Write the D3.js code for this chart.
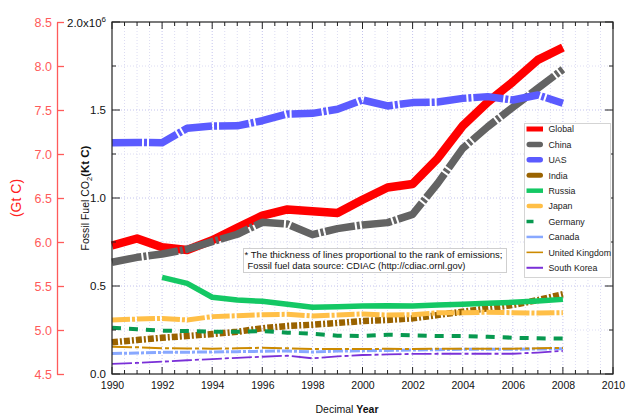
<!DOCTYPE html>
<html>
<head>
<meta charset="utf-8">
<script src="https://cdn.jsdelivr.net/npm/d3@7"></script>
<style>
  body { margin: 0; background: #fff; }
  svg { display: block; font-family: "Liberation Sans", Arial, sans-serif; }
</style>
</head>
<body>
<svg id="chart" width="628" height="417"></svg>
<script>
// Fossil-fuel CO2 emissions, 1990-2008 (CDIAC)
const years = [1990, 1991, 1992, 1993, 1994, 1995, 1996, 1997, 1998, 1999,
               2000, 2001, 2002, 2003, 2004, 2005, 2006, 2007, 2008];

// Global total, Gt C (left red axis)
const globalGt = [5.96, 6.04, 5.94, 5.91, 6.02, 6.16, 6.30, 6.37, 6.35, 6.33,
                  6.48, 6.62, 6.66, 6.95, 7.32, 7.59, 7.82, 8.07, 8.21];

// National totals, Kt C
const china   = [635000, 663000, 682000, 709000, 752000, 794000, 862000, 852000, 792000, 826000,
                 847000, 860000, 907000, 1083000, 1282000, 1405000, 1515000, 1623000, 1731000];
const uas     = [1314000, 1316000, 1314000, 1396000, 1409000, 1410000, 1439000, 1477000, 1481000, 1504000,
                 1557000, 1523000, 1542000, 1545000, 1566000, 1576000, 1557000, 1585000, 1538000];
const india   = [180000, 193000, 206000, 216000, 227000, 240000, 260000, 273000, 280000, 290000,
                 301000, 307000, 316000, 335000, 354000, 373000, 392000, 420000, 453000];
const russia  = [null, null, 549000, 515000, 436000, 420000, 413000, 396000, 379000, 382000,
                 386000, 388000, 386000, 392000, 396000, 402000, 407000, 415000, 424000];
const japan   = [307000, 312000, 316000, 307000, 326000, 331000, 337000, 339000, 330000, 335000,
                 341000, 335000, 337000, 348000, 348000, 351000, 348000, 346000, 348000];
const germany = [263000, 254000, 246000, 244000, 240000, 240000, 244000, 235000, 229000, 218000,
                 216000, 223000, 220000, 216000, 216000, 212000, 206000, 203000, 201000];
const canada  = [116000, 119000, 123000, 124000, 125000, 127000, 129000, 131000, 125000, 130000,
                 132000, 134000, 136000, 138000, 140000, 140000, 140000, 142000, 144000];
const uk      = [155000, 152000, 146000, 145000, 144000, 146000, 149000, 146000, 142000, 142000,
                 142000, 143000, 142000, 143000, 144000, 144000, 144000, 146000, 148000];
const korea   = [57000, 63000, 70000, 78000, 85000, 92000, 98000, 104000, 89000, 100000,
                 108000, 111000, 114000, 115000, 115000, 115000, 115000, 122000, 131000];

const seriesNames = ["Global", "China", "UAS", "India", "Russia", "Japan",
                     "Germany", "Canada", "United Kingdom", "South Korea"];

const xTicks = [1990, 1992, 1994, 1996, 1998, 2000, 2002, 2004, 2006, 2008, 2010];
const yTicks = [0, 500000, 1000000, 1500000];
const yTickLabels = ["0.0", "0.5", "1.0", "1.5"];
const gtTicks = [4.5, 5.0, 5.5, 6.0, 6.5, 7.0, 7.5, 8.0, 8.5];

// line styling per series
const styles = {
  "Global":         { color: "#ff0000", width: 8.5, dash: null,        cap: "butt",  lw: 5,   lcap: "butt" },
  "China":          { color: "#636363", width: 7.5, dash: "30,2,3,2",  cap: "butt",  lw: 5.5, lcap: "round" },
  "UAS":            { color: "#5b5bff", width: 7.5, dash: "30,2,3,2",  cap: "butt",  lw: 5.5, lcap: "round" },
  "India":          { color: "#9a6300", width: 6.5, dash: "6,2,2,2",   cap: "butt",  lw: 5,   lcap: "round" },
  "Russia":         { color: "#14c864", width: 5.5, dash: null,        cap: "butt",  lw: 4.5, lcap: "butt" },
  "Japan":          { color: "#ffbf47", width: 5,   dash: "18,2,3,2",  cap: "butt",  lw: 4.5, lcap: "round" },
  "Germany":        { color: "#089950", width: 4,   dash: "9,8",       cap: "butt",  lw: 3.5, lcap: "butt", ldash: "7,12" },
  "Canada":         { color: "#88a8ff", width: 3,   dash: "10,2,3,2",  cap: "butt",  lw: 2.5, lcap: "butt" },
  "United Kingdom": { color: "#cc8a00", width: 2,   dash: "20,3,4,3",  cap: "butt",  lw: 1.6, lcap: "butt" },
  "South Korea":    { color: "#7a30d8", width: 1.8, dash: "20,3,4,3",  cap: "butt",  lw: 2,   lcap: "butt" }
};

const svg = d3.select("#chart");
const L = 112, R = 613, T = 22, B = 374;

const x = d3.scaleLinear().domain([1990, 2010]).range([L, R]);
const y = d3.scaleLinear().domain([0, 2000000]).range([B, T]);
const yG = d3.scaleLinear().domain([4.5, 8.5]).range([B, T]);

// grid
const grid = svg.append("g").attr("fill", "none");
grid.selectAll("line.gx").data(d3.range(1990.5, 2010, 0.5)).join("line")
  .attr("x1", d => x(d)).attr("x2", d => x(d)).attr("y1", T).attr("y2", B)
  .attr("stroke", d => d % 2 === 0 ? "#c4c4ee" : "#dcdcf2")
  .attr("stroke-width", 1).attr("stroke-dasharray", "1,2");
grid.selectAll("line.gy").data(d3.range(250000, 2000000, 250000)).join("line")
  .attr("x1", L).attr("x2", R).attr("y1", d => y(d)).attr("y2", d => y(d))
  .attr("stroke", d => d % 500000 === 0 ? "#c4c4ee" : "#dcdcf2")
  .attr("stroke-width", 1).attr("stroke-dasharray", "1,2");

// series lines
const data = {
  "Global": globalGt, "China": china, "UAS": uas, "India": india, "Russia": russia,
  "Japan": japan, "Germany": germany, "Canada": canada, "United Kingdom": uk, "South Korea": korea
};
const lines = svg.append("g").attr("fill", "none");
seriesNames.forEach(name => {
  const scale = name === "Global" ? yG : y;
  const gen = d3.line()
    .defined(d => d[1] != null)
    .x(d => x(d[0])).y(d => scale(d[1]));
  const st = styles[name];
  lines.append("path")
    .datum(years.map((yr, i) => [yr, data[name][i]]))
    .attr("d", gen)
    .attr("stroke", st.color)
    .attr("stroke-width", st.width)
    .attr("stroke-linejoin", "round")
    .attr("stroke-linecap", st.cap)
    .attr("stroke-dasharray", st.dash);
});

// frame
svg.append("rect").attr("x", L).attr("y", T).attr("width", R - L).attr("height", B - T)
  .attr("fill", "none").attr("stroke", "#222").attr("stroke-width", 1.2);

// minor / major ticks on frame
const ticks = svg.append("g").attr("stroke", "#222").attr("stroke-width", 1);
d3.range(1990, 2010.01, 0.5).forEach(v => {
  const len = v % 2 === 0 ? 7 : 4;
  ticks.append("line").attr("x1", x(v)).attr("x2", x(v)).attr("y1", B).attr("y2", B - len);
  ticks.append("line").attr("x1", x(v)).attr("x2", x(v)).attr("y1", T).attr("y2", T + len);
});
d3.range(0, 2000001, 250000).forEach(v => {
  const len = v % 500000 === 0 ? 8 : 4;
  ticks.append("line").attr("x1", L).attr("x2", L + len).attr("y1", y(v)).attr("y2", y(v));
  ticks.append("line").attr("x1", R).attr("x2", R - len).attr("y1", y(v)).attr("y2", y(v));
});

// bottom axis labels
const xAxis = d3.axisBottom(x).tickValues(xTicks).tickFormat(d3.format("d"))
  .tickSize(0).tickPadding(8);
const gx = svg.append("g").attr("transform", `translate(0,${B})`).call(xAxis);
gx.select(".domain").remove();
gx.selectAll("text").attr("font-size", 10.5).attr("fill", "#111")
  .attr("font-family", "Liberation Sans, Arial, sans-serif");

// left axis labels (Kt C)
const yAxis = d3.axisLeft(y).tickValues(yTicks)
  .tickFormat((d, i) => yTickLabels[i]).tickSize(0).tickPadding(6);
const gy = svg.append("g").attr("transform", `translate(${L},0)`).call(yAxis);
gy.select(".domain").remove();
gy.selectAll("text").attr("font-size", 11.5).attr("fill", "#111")
  .attr("font-family", "Liberation Sans, Arial, sans-serif");

const topLbl = svg.append("text").attr("x", 106).attr("y", y(2000000) + 5)
  .attr("text-anchor", "end").attr("font-size", 11.5).attr("fill", "#111");
topLbl.append("tspan").text("2.0x10");
topLbl.append("tspan").attr("dy", -5).attr("font-size", 8).text("6");

// red Gt C axis
const gAxis = d3.axisLeft(yG).tickValues(gtTicks).tickFormat(d3.format(".1f"))
  .tickSizeInner(-7).tickSizeOuter(0).tickPadding(5);
const gg = svg.append("g").attr("transform", "translate(57,0)").call(gAxis);
gg.select(".domain").attr("stroke", "#ff5a5a").attr("stroke-width", 1.3);
gg.selectAll(".tick line").attr("stroke", "#ff5a5a").attr("stroke-width", 1.3);
gg.selectAll("text").attr("font-size", 12.5).attr("fill", "#ff5a5a")
  .attr("font-family", "Liberation Sans, Arial, sans-serif");

// axis titles
svg.append("text").attr("transform", `translate(21,${(T + B) / 2}) rotate(-90)`)
  .attr("text-anchor", "middle").attr("font-size", 14).attr("fill", "#ff2020")
  .text("(Gt C)");

const yt = svg.append("text").attr("transform", `translate(89,${(T + B) / 2}) rotate(-90)`)
  .attr("text-anchor", "middle").attr("font-size", 10.5).attr("fill", "#111");
yt.append("tspan").text("Fossil Fuel CO");
yt.append("tspan").attr("font-size", 7.5).attr("dy", 3).text("2");
yt.append("tspan").attr("dy", -3).attr("font-weight", "bold").attr("font-size", 11.5).text("(Kt C)");

const xt = svg.append("text").attr("x", 347).attr("y", 413)
  .attr("text-anchor", "middle").attr("font-size", 10.5).attr("fill", "#111");
xt.append("tspan").text("Decimal ");
xt.append("tspan").attr("font-weight", "bold").text("Year");

// note box
const note = svg.append("g");
note.append("rect").attr("x", 243.5).attr("y", 248.5).attr("width", 263).attr("height", 24)
  .attr("fill", "#fff").attr("stroke", "#cfcfcf");
note.append("text").attr("x", 244.5).attr("y", 257.5).attr("font-size", 9.8).attr("fill", "#111")
  .attr("textLength", 258).attr("lengthAdjust", "spacingAndGlyphs")
  .text("* The thickness of lines proportional to the rank of emissions;");
note.append("text").attr("x", 247.5).attr("y", 268.5).attr("font-size", 9.8).attr("fill", "#111")
  .attr("textLength", 218).attr("lengthAdjust", "spacingAndGlyphs")
  .text("Fossil fuel data source: CDIAC (http://cdiac.ornl.gov)");

// legend
const leg = svg.append("g");
leg.append("rect").attr("x", 524.5).attr("y", 123.5).attr("width", 86).attr("height", 154)
  .attr("fill", "#fff").attr("stroke", "#d4d4d4");
seriesNames.forEach((name, i) => {
  const st = styles[name];
  const cy = 129 + i * 15.42;
  const pad = st.lcap === "round" ? st.lw / 2 : 0;
  leg.append("line")
    .attr("x1", 526.5 + pad).attr("x2", 543 - pad).attr("y1", cy).attr("y2", cy)
    .attr("stroke", st.color).attr("stroke-width", st.lw)
    .attr("stroke-linecap", st.lcap)
    .attr("stroke-dasharray", st.ldash || null);
  leg.append("text").attr("x", 548.5).attr("y", cy + 3.3)
    .attr("font-size", 8.8).attr("fill", "#222").text(name);
});
</script>
</body>
</html>
